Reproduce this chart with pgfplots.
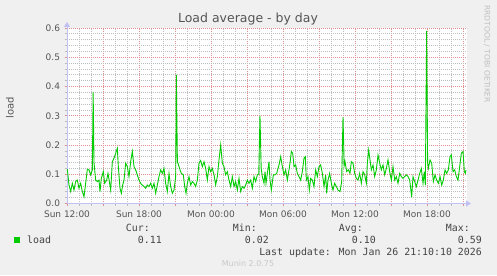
\documentclass[border=0pt]{standalone}
\usepackage{fontspec}
\setmainfont{DejaVu Sans}
\newfontfamily\monofont{DejaVu Sans Mono}
\usepackage{pgfplots}
\pgfplotsset{compat=1.18}
\usetikzlibrary{arrows.meta}
\definecolor{bg}{HTML}{F0F0F0}
\definecolor{mgrid}{HTML}{DE9090}
\definecolor{mingrid}{HTML}{BDBDBD}
\definecolor{axiscol}{HTML}{C0C0F4}
\definecolor{txt}{HTML}{555555}
\definecolor{loadc}{HTML}{00CC00}
\begin{document}
\begin{tikzpicture}[x=1bp,y=1bp]
\fill[bg] (0,0) rectangle (497,275);
\begin{axis}[at={(67bp,71.5bp)}, anchor=south west,
  width=400bp, height=175.5bp, scale only axis,
  xmin=0, xmax=33.333, ymin=0, ymax=0.6,
  axis lines=left,
  axis line style={axiscol, line width=0.8bp, -{Triangle[length=5bp,width=6bp]}},
  x axis line style={shorten >=-4bp},
  y axis line style={shorten >=-6bp},
  axis background/.style={fill=white},
  xtick={0,3,6,9,12,15,18,21,24,27,30,33},
  xticklabels={Sun 12:00,,Sun 18:00,,Mon 00:00,,Mon 06:00,,Mon 12:00,,Mon 18:00,},
  minor x tick num=2,
  ytick={0,0.1,0.2,0.3,0.4,0.5,0.6},
  yticklabels={0.0,0.1,0.2,0.3,0.4,0.5,0.6},
  minor y tick num=4,
  grid=both,
  major grid style={mgrid, dash pattern=on 1bp off 1bp, line width=0.75bp},
  minor grid style={mingrid, dash pattern=on 1bp off 1bp, line width=0.75bp},
  tick align=outside, major tick length=2.5bp, minor tick length=2.5bp,
  every major tick/.append style={mgrid, line width=0.7bp},
  every minor tick/.append style={mingrid, line width=0.7bp},
  tick label style={font=\fontsize{9bp}{10bp}\selectfont, text=txt},
  yticklabel style={xshift=-1bp},
  xticklabel style={yshift=-1bp},
  /pgf/number format/assume math mode=true,
  clip=false,
]
\addplot[loadc, line width=0.9bp] coordinates {
(0.028,0.117) (0.167,0.063) (0.306,0.041) (0.444,0.069) (0.583,0.046) (0.722,0.075)
(0.861,0.080) (1.0,0.052) (1.139,0.069) (1.278,0.041) (1.417,0.023) (1.556,0.069)
(1.694,0.117) (1.833,0.115) (1.972,0.098) (2.111,0.115) (2.18,0.38) (2.25,0.14)
(2.389,0.080) (2.528,0.075) (2.667,0.080) (2.75,0.041) (2.861,0.086) (3.028,0.109)
(3.139,0.069) (3.306,0.080) (3.417,0.103) (3.528,0.075) (3.639,0.046) (3.778,0.143)
(3.917,0.155) (4.056,0.172) (4.194,0.189) (4.278,0.126) (4.417,0.052) (4.528,0.035)
(4.639,0.063) (4.75,0.080) (4.889,0.138) (5.028,0.126) (5.167,0.092) (5.306,0.143)
(5.444,0.178) (5.583,0.126) (5.722,0.115) (5.861,0.098) (6.0,0.080) (6.139,0.069)
(6.278,0.063) (6.417,0.058) (6.556,0.052) (6.694,0.063) (6.833,0.058) (6.972,0.069)
(7.111,0.052) (7.25,0.069) (7.389,0.035) (7.528,0.063) (7.667,0.092) (7.806,0.115)
(7.944,0.103) (8.083,0.120) (8.222,0.069) (8.361,0.041) (8.5,0.103) (8.639,0.058)
(8.778,0.035) (8.917,0.046) (9.056,0.092) (9.11,0.44) (9.2,0.14) (9.25,0.138)
(9.417,0.115) (9.528,0.103) (9.694,0.098) (9.806,0.058) (9.917,0.035) (10.028,0.069)
(10.167,0.092) (10.306,0.063) (10.444,0.075) (10.583,0.069) (10.722,0.058) (10.861,0.080)
(11.0,0.138) (11.139,0.147) (11.278,0.126) (11.417,0.143) (11.556,0.120) (11.694,0.080)
(11.833,0.126) (11.972,0.109) (12.111,0.120) (12.25,0.098) (12.389,0.063) (12.528,0.092)
(12.667,0.149) (12.806,0.200) (12.944,0.138) (13.083,0.126) (13.222,0.098) (13.361,0.109)
(13.5,0.080) (13.639,0.058) (13.778,0.092) (13.917,0.058) (14.056,0.075) (14.194,0.046)
(14.333,0.086) (14.472,0.041) (14.611,0.058) (14.75,0.052) (14.889,0.063) (15.028,0.080)
(15.167,0.069) (15.306,0.080) (15.444,0.052) (15.583,0.092) (15.722,0.075) (15.861,0.098)
(15.98,0.10) (16.08,0.30) (16.18,0.12) (16.278,0.092) (16.417,0.069) (16.5,0.109)
(16.583,0.069) (16.694,0.103) (16.833,0.143) (16.917,0.080) (17.028,0.046) (17.194,0.098)
(17.333,0.098) (17.472,0.103) (17.667,0.132) (17.806,0.160) (17.944,0.126) (18.083,0.098)
(18.222,0.115) (18.361,0.080) (18.5,0.115) (18.583,0.138) (18.694,0.178) (18.806,0.172)
(18.917,0.126) (19.056,0.132) (19.194,0.103) (19.333,0.092) (19.472,0.080) (19.611,0.109)
(19.75,0.155) (19.861,0.160) (19.944,0.080) (20.083,0.092) (20.194,0.046) (20.306,0.086)
(20.444,0.080) (20.583,0.058) (20.722,0.115) (20.861,0.092) (21.0,0.126) (21.139,0.132)
(21.278,0.103) (21.417,0.058) (21.556,0.098) (21.639,0.035) (21.75,0.080) (21.889,0.103)
(22.028,0.069) (22.167,0.046) (22.306,0.069) (22.444,0.058) (22.583,0.046) (22.75,0.041)
(22.889,0.075) (23.0,0.295) (23.1,0.13) (23.167,0.143) (23.306,0.109) (23.444,0.115)
(23.583,0.103) (23.694,0.143) (23.833,0.138) (23.972,0.103) (24.111,0.086) (24.25,0.080)
(24.389,0.103) (24.528,0.069) (24.667,0.109) (24.806,0.098) (24.944,0.069) (25.028,0.138)
(25.139,0.183) (25.25,0.149) (25.361,0.115) (25.5,0.132) (25.639,0.092) (25.778,0.115)
(25.917,0.166) (26.056,0.138) (26.194,0.115) (26.333,0.132) (26.472,0.098) (26.611,0.120)
(26.75,0.149) (26.889,0.109) (27.028,0.080) (27.167,0.126) (27.306,0.080) (27.444,0.092)
(27.583,0.069) (27.722,0.103) (27.861,0.092) (28.0,0.086) (28.139,0.092) (28.278,0.098)
(28.417,0.092) (28.556,0.080) (28.639,0.052) (28.722,0.023) (28.833,0.092) (28.972,0.075)
(29.111,0.058) (29.25,0.080) (29.389,0.103) (29.528,0.120) (29.667,0.069) (29.778,0.109)
(29.861,0.063) (29.97,0.59) (30.05,0.14) (30.111,0.120) (30.25,0.149) (30.389,0.138)
(30.528,0.075) (30.667,0.098) (30.806,0.080) (30.944,0.069) (31.083,0.092) (31.222,0.063)
(31.361,0.080) (31.5,0.115) (31.639,0.103) (31.778,0.115) (31.917,0.160) (32.028,0.166)
(32.167,0.109) (32.306,0.115) (32.444,0.092) (32.583,0.080) (32.722,0.126) (32.861,0.172)
(33.0,0.178) (33.111,0.109) (33.194,0.103) (33.25,0.115)
};
\end{axis}
% title and side texts
\node[text=txt, font=\fontsize{12.5bp}{14bp}\selectfont] at (248,256) {Load average - by day};
\node[text=txt, rotate=90, font=\fontsize{10bp}{12bp}\selectfont] at (10,167) {load};
\node[text={rgb,255:red,192;green,192;blue,192}, rotate=-90, anchor=west, inner sep=0,
      font=\fontsize{7.6bp}{8bp}\selectfont] at (487,270) {RRDTOOL / TOBI OETIKER};
% legend
\fill[loadc] (14,32) rectangle (20,38);
\begin{scope}[every node/.style={inner sep=0, text={rgb,255:red,68;green,68;blue,68}, font=\monofont\fontsize{9.9bp}{11bp}\selectfont}]
\node[anchor=base west] at (27,31.4) {load};
\node[anchor=base east] at (150,43.4) {Cur:};
\node[anchor=base east] at (162,31.4) {0.11};
\node[anchor=base east] at (257,43.4) {Min:};
\node[anchor=base east] at (269,31.4) {0.02};
\node[anchor=base east] at (363,43.4) {Avg:};
\node[anchor=base east] at (376,31.4) {0.10};
\node[anchor=base east] at (470,43.4) {Max:};
\node[anchor=base east] at (482,31.4) {0.59};
\node[anchor=base east] at (482,19.4) {Last update: Mon Jan 26 21:10:10 2026};
\end{scope}
\node[text={rgb,255:red,200;green,200;blue,200}, font=\fontsize{8bp}{9bp}\selectfont] at (248,11) {Munin 2.0.75};
\end{tikzpicture}
\end{document}
